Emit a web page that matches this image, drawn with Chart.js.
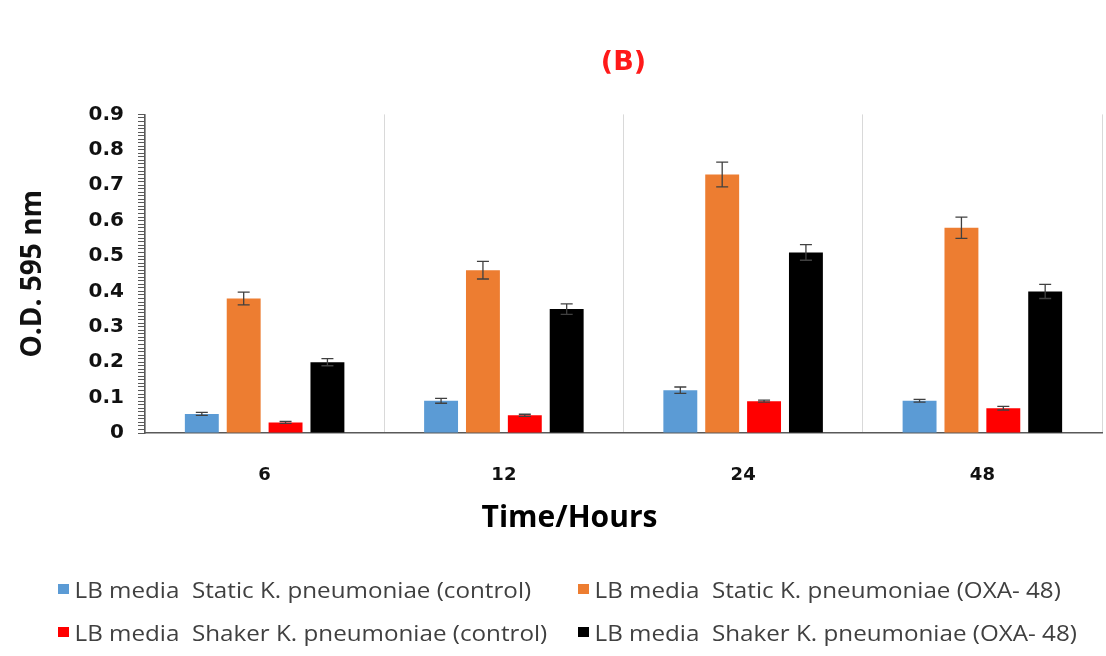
<!DOCTYPE html>
<html>
<head>
<meta charset="utf-8">
<script src="https://cdn.jsdelivr.net/npm/chart.js@4.4.0/dist/chart.umd.min.js"></script>
<style>
  body { margin: 0; background: #fff; }
  #wrap { position: relative; width: 1106px; height: 656px; }
  #legend { position: absolute; left: 0; top: 0; width: 1106px; height: 656px; pointer-events: none;
    font-family: "Open Sans", sans-serif; font-size: 22px; color: #404040; }
  .item { position: absolute; white-space: pre; display: flex; align-items: center;
    transform: scaleX(1.1); transform-origin: left center; }
  .box { width: 10px; height: 10px; margin-right: 5px; display: inline-block; }
</style>
</head>
<body>
<div id="wrap">
  <canvas id="chart" width="1106" height="656"></canvas>
  <div id="legend"></div>
</div>
<script>
// categories (hours)
const hours = ['6', '12', '24', '48'];

// series labels
const seriesNames = [
  'LB media  Static K. pneumoniae (control)',
  'LB media  Static K. pneumoniae (OXA- 48)',
  'LB media  Shaker K. pneumoniae (control)',
  'LB media  Shaker K. pneumoniae (OXA- 48)'
];

// O.D. 595 nm values
const staticControl = [0.054, 0.091, 0.121, 0.091];
const staticOxa = [0.38, 0.46, 0.73, 0.58];
const shakerControl = [0.03, 0.05, 0.09, 0.07];
const shakerOxa = [0.20, 0.35, 0.51, 0.40];

// error bar half-lengths
const staticControlErr = [0.004, 0.007, 0.009, 0.004];
const staticOxaErr = [0.018, 0.025, 0.035, 0.03];
const shakerControlErr = [0.003, 0.003, 0.003, 0.005];
const shakerOxaErr = [0.01, 0.015, 0.022, 0.02];

const seriesColors = ['#5b9bd5', '#ed7d31', '#ff0000', '#000000'];

// error bars drawn on top of the bars
const errorBars = {
  id: 'errorBars',
  afterDatasetsDraw(chart) {
    const ctx = chart.ctx;
    const y = chart.scales.y;
    ctx.save();
    ctx.strokeStyle = '#404040';
    ctx.lineWidth = 1.3;
    chart.data.datasets.forEach((ds, i) => {
      const meta = chart.getDatasetMeta(i);
      meta.data.forEach((bar, j) => {
        const v = ds.data[j];
        const e = ds.errors[j];
        const top = y.getPixelForValue(v + e);
        const bot = y.getPixelForValue(v - e);
        ctx.beginPath();
        ctx.moveTo(bar.x, top); ctx.lineTo(bar.x, bot);
        ctx.moveTo(bar.x - 6, top); ctx.lineTo(bar.x + 6, top);
        ctx.moveTo(bar.x - 6, bot); ctx.lineTo(bar.x + 6, bot);
        ctx.stroke();
      });
    });
    ctx.restore();
  }
};

// x axis title sits a bit left of the plot centre in the original
const xTitle = {
  id: 'xTitle',
  afterDraw(chart) {
    const ctx = chart.ctx;
    const a = chart.chartArea;
    ctx.save();
    ctx.font = 'bold 30px "Open Sans", sans-serif';
    ctx.fillStyle = '#000';
    ctx.textAlign = 'center';
    ctx.textBaseline = 'middle';
    ctx.fillText('Time/Hours', (a.left + a.right) / 2 - 54, 518);
    ctx.restore();
  }
};

const chart = new Chart(document.getElementById('chart'), {
  type: 'bar',
  data: {
    labels: hours,
    datasets: [
      { label: seriesNames[0], data: staticControl, errors: staticControlErr, backgroundColor: seriesColors[0] },
      { label: seriesNames[1], data: staticOxa, errors: staticOxaErr, backgroundColor: seriesColors[1] },
      { label: seriesNames[2], data: shakerControl, errors: shakerControlErr, backgroundColor: seriesColors[2] },
      { label: seriesNames[3], data: shakerOxa, errors: shakerOxaErr, backgroundColor: seriesColors[3] }
    ]
  },
  options: {
    responsive: false,
    animation: false,
    categoryPercentage: 0.7,
    barPercentage: 0.81,
    layout: { padding: { left: 10, right: 4, top: 0, bottom: 120 } },
    plugins: {
      legend: { display: false },
      tooltip: { enabled: false },
      title: {
        display: true,
        text: '(B)',
        fullSize: false,
        color: '#ff1a1a',
        font: { family: 'DejaVu Sans', size: 27, weight: 'bold' },
        padding: { top: 47, bottom: 35 }
      }
    },
    scales: {
      x: {
        afterFit: s => { s.height = 103; },
        grid: { offset: true, color: '#d9d9d9', drawTicks: false },
        border: { color: '#595959', width: 1.5 },
        ticks: { color: '#111', padding: 32, font: { family: 'DejaVu Sans', size: 18, weight: 'bold' } }
      },
      y: {
        min: 0,
        max: 0.9,
        afterFit: s => { s.width = 135; },
        grid: { drawOnChartArea: false, color: '#595959', tickLength: 7 },
        border: { color: '#595959', width: 1.5 },
        ticks: {
          stepSize: 0.01,
          autoSkip: false,
          padding: 14,
          color: '#111',
          font: { family: 'DejaVu Sans', size: 20, weight: 'bold' },
          callback: v => {
            const r = Math.round(v * 100);
            return r % 10 === 0 ? String(r / 100) : '';
          }
        },
        title: {
          display: true,
          text: 'O.D. 595 nm',
          color: '#111',
          font: { family: 'Open Sans', size: 28, weight: 'bold' },
          padding: { top: 6, bottom: 0 }
        }
      }
    }
  },
  plugins: [errorBars, xTitle]
});

// legend: two rows of two items, as in the original
const legendPos = [[58, 574], [578, 574], [58, 617], [578, 617]];
const legend = document.getElementById('legend');
chart.data.datasets.forEach((ds, i) => {
  const el = document.createElement('div');
  el.className = 'item';
  el.style.left = legendPos[i][0] + 'px';
  el.style.top = legendPos[i][1] + 'px';
  el.innerHTML = '<span class="box" style="background:' + ds.backgroundColor + '"></span>';
  el.appendChild(document.createTextNode(ds.label));
  legend.appendChild(el);
});
</script>
</body>
</html>
